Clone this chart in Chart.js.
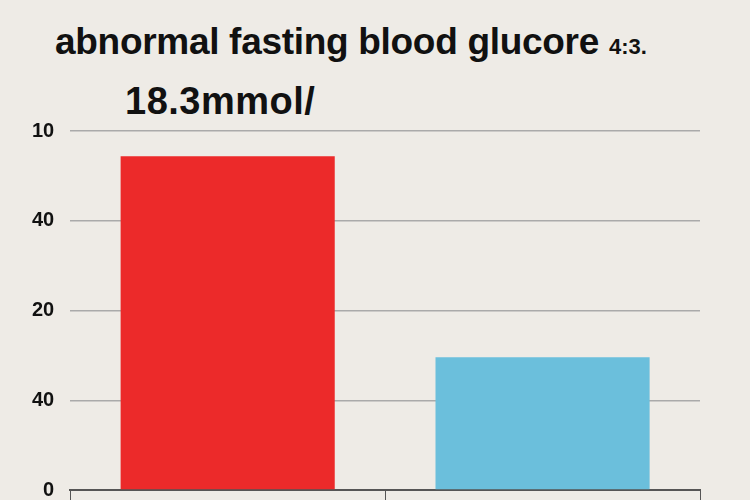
<!DOCTYPE html>
<html><head><meta charset="utf-8">
<script src="https://cdn.jsdelivr.net/npm/chart.js@4"></script>
<style>
body{margin:0;background:#eeebe6;width:750px;height:500px;overflow:hidden;position:relative;font-family:"Liberation Sans",Arial,sans-serif}
#t1{position:absolute;left:55px;top:21px;font-size:37px;font-weight:bold;color:#111;white-space:nowrap;letter-spacing:-0.3px}
#t1 span{font-size:22px;letter-spacing:0}
#t2{position:absolute;left:125px;top:80px;font-size:38px;font-weight:bold;color:#111;letter-spacing:0.5px}
#c{position:absolute;left:0;top:0}
</style></head><body>
<div id="t1">abnormal fasting blood glucore <span>4:3.</span></div>
<div id="t2">18.3mmol/</div>
<canvas id="c" width="750" height="518"></canvas>
<script>
const categories=["A","B"];
const values=[3.72,1.48];
const colors=["#ec2a2a","#6bbfdc"];
const tickLabels=["0","40","20","40","10"];
new Chart(document.getElementById('c'),{
 type:'bar',
 data:{labels:categories,datasets:[{data:values,backgroundColor:colors,borderWidth:0,barPercentage:0.68,categoryPercentage:1}]},
 options:{responsive:false,animation:false,
  layout:{padding:{top:131,right:50,left:16,bottom:0}},
  plugins:{legend:{display:false},tooltip:{enabled:false}},
  scales:{
   y:{min:0,max:4,border:{display:false},
      grid:{color:'#aaa',lineWidth:1.5,drawTicks:false},
      ticks:{stepSize:1,padding:16,color:'#111',font:{size:20,weight:'bold',family:'Liberation Sans'},callback:(v)=>tickLabels[v]}},
   x:{offset:true,border:{display:true,color:'#555',width:2},
      grid:{drawOnChartArea:false,drawTicks:true,tickLength:12,color:'#555',offset:true},
      ticks:{display:false}}
  }}
});
</script></body></html>
